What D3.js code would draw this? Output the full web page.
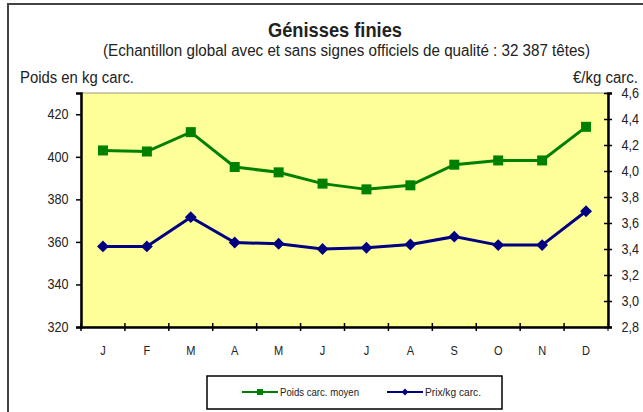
<!DOCTYPE html>
<html>
<head>
<meta charset="utf-8">
<script src="https://cdn.jsdelivr.net/npm/d3@7"></script>
<style>
body { margin: 0; background: #fff; }
svg text { font-family: "Liberation Sans Narrow", "Arial Narrow", "Liberation Sans", sans-serif; fill: #222; }
</style>
</head>
<body>
<script>
var months = ["J", "F", "M", "A", "M", "J", "J", "A", "S", "O", "N", "D"];
var poids = [403, 402.5, 411.6, 395.2, 392.7, 387.4, 384.7, 386.6, 396.3, 398.3, 398.3, 414.1];
var prix = [3.42, 3.42, 3.645, 3.45, 3.44, 3.40, 3.41, 3.435, 3.495, 3.43, 3.43, 3.69];
var leftTicks = [320, 340, 360, 380, 400, 420];
var rightTicks = [2.8, 3.0, 3.2, 3.4, 3.6, 3.8, 4.0, 4.2, 4.4, 4.6];
var seriesNames = ["Poids carc. moyen", "Prix/kg carc."];

var W = 643, H = 412;
var plot = { left: 81, right: 608, top: 93, bottom: 327 };

var svg = d3.select("body").append("svg")
	.attr("width", W)
	.attr("height", H);

// outer frame
svg.append("path")
	.attr("d", "M8," + H + "V4H" + W)
	.attr("fill", "none")
	.attr("stroke", "#444")
	.attr("stroke-width", 2);

var x = d3.scaleBand()
	.domain(d3.range(months.length))
	.range([plot.left, plot.right]);

var yL = d3.scaleLinear()
	.domain([320, 430])
	.range([plot.bottom, plot.top]);

var yR = d3.scaleLinear()
	.domain([2.8, 4.6])
	.range([plot.bottom, plot.top]);

svg.append("rect")
	.attr("x", plot.left)
	.attr("y", plot.top)
	.attr("width", plot.right - plot.left)
	.attr("height", plot.bottom - plot.top)
	.attr("fill", "#FFFF99")
	.attr("stroke", "#999980")
	.attr("stroke-width", 1);

// titles (narrowed to match the condensed original font)
svg.append("text")
	.attr("x", 268).attr("y", 37)
	.attr("textLength", 134).attr("lengthAdjust", "spacingAndGlyphs")
	.style("font-size", "20px")
	.style("font-weight", "bold")
	.text("Génisses finies");

svg.append("text")
	.attr("x", 103).attr("y", 56)
	.attr("textLength", 487).attr("lengthAdjust", "spacingAndGlyphs")
	.style("font-size", "16px")
	.text("(Echantillon global avec et sans signes officiels  de qualité : 32 387 têtes)");

svg.append("text")
	.attr("x", 20).attr("y", 83)
	.attr("textLength", 114).attr("lengthAdjust", "spacingAndGlyphs")
	.style("font-size", "16px")
	.text("Poids en kg carc.");

svg.append("text")
	.attr("x", 573).attr("y", 83)
	.attr("textLength", 65).attr("lengthAdjust", "spacingAndGlyphs")
	.style("font-size", "16px")
	.text("€/kg carc.");

// left axis
var axL = svg.append("g")
	.attr("transform", "translate(" + plot.left + ",0)")
	.call(d3.axisLeft(yL).tickValues(leftTicks).tickSize(5).tickPadding(9));

// right axis
var axR = svg.append("g")
	.attr("transform", "translate(" + plot.right + ",0)")
	.call(d3.axisRight(yR).tickValues(rightTicks).tickSize(4).tickPadding(11)
		.tickFormat(function(d) { return d3.format(".1f")(d).replace(".", ","); }));
axR.selectAll(".tick line").attr("x1", -4);

// bottom axis
var axB = svg.append("g")
	.attr("transform", "translate(0," + plot.bottom + ")")
	.call(d3.axisBottom(x).tickFormat(function(i) { return months[i]; }).tickSize(0).tickPadding(19));
axB.selectAll(".tick")
	.append("line")
	.attr("x1", -x.bandwidth() / 2).attr("x2", -x.bandwidth() / 2)
	.attr("y1", -4).attr("y2", 4)
	.attr("stroke", "#000");
axB.append("line")
	.attr("x1", plot.right).attr("x2", plot.right)
	.attr("y1", -4).attr("y2", 4)
	.attr("stroke", "#000");

[axL, axR, axB].forEach(function(a) {
	a.select(".domain").attr("stroke", "#000").attr("stroke-width", 2.5);
	a.selectAll(".tick line").attr("stroke", "#000").attr("stroke-width", 1.5);
	a.selectAll("text").style("font-size", "13px").attr("fill", "#333").style("font-family", null);
});
axB.selectAll("text").attr("transform", "scale(0.85,1)");
axL.selectAll("text").attr("transform", "scale(0.9,1)").style("font-size", "14px");
axR.selectAll("text").attr("transform", "scale(0.9,1)").style("font-size", "14px");

var cx = function(d, i) { return x(i) + x.bandwidth() / 2; };

svg.append("path")
	.datum(poids)
	.attr("fill", "none")
	.attr("stroke", "#008000")
	.attr("stroke-width", 3)
	.attr("d", d3.line().x(cx).y(function(d) { return yL(d); }));

svg.selectAll(".sq")
	.data(poids)
	.enter().append("rect")
	.attr("class", "sq")
	.attr("x", function(d, i) { return cx(d, i) - 5; })
	.attr("y", function(d) { return yL(d) - 5; })
	.attr("width", 10).attr("height", 10)
	.attr("fill", "#008000");

svg.append("path")
	.datum(prix)
	.attr("fill", "none")
	.attr("stroke", "#000080")
	.attr("stroke-width", 3)
	.attr("d", d3.line().x(cx).y(function(d) { return yR(d); }));

var diamond = d3.symbol().type(d3.symbolDiamond2).size(90);
svg.selectAll(".dm")
	.data(prix)
	.enter().append("path")
	.attr("class", "dm")
	.attr("transform", function(d, i) { return "translate(" + cx(d, i) + "," + yR(d) + ")"; })
	.attr("d", diamond)
	.attr("fill", "#000080");

// legend
var lg = svg.append("g");
lg.append("rect")
	.attr("x", 207).attr("y", 376)
	.attr("width", 295).attr("height", 33)
	.attr("fill", "#fff")
	.attr("stroke", "#000")
	.attr("stroke-width", 1.5);

var legendItems = [
	{ name: seriesNames[0], color: "#008000", x: 242, shape: "sq", w: 79 },
	{ name: seriesNames[1], color: "#000080", x: 387, shape: "dm", w: 56 }
];
legendItems.forEach(function(it) {
	lg.append("line")
		.attr("x1", it.x).attr("x2", it.x + 36)
		.attr("y1", 392).attr("y2", 392)
		.attr("stroke", it.color)
		.attr("stroke-width", 2);
	if (it.shape === "sq") {
		lg.append("rect").attr("x", it.x + 15).attr("y", 389).attr("width", 6).attr("height", 6).attr("fill", it.color);
	} else {
		lg.append("path").attr("transform", "translate(" + (it.x + 18) + ",392)")
			.attr("d", d3.symbol().type(d3.symbolDiamond2).size(30)).attr("fill", it.color);
	}
	lg.append("text")
		.attr("x", it.x + 38).attr("y", 396)
		.attr("textLength", it.w).attr("lengthAdjust", "spacingAndGlyphs")
		.style("font-size", "11px")
		.text(it.name);
});
</script>
</body>
</html>
